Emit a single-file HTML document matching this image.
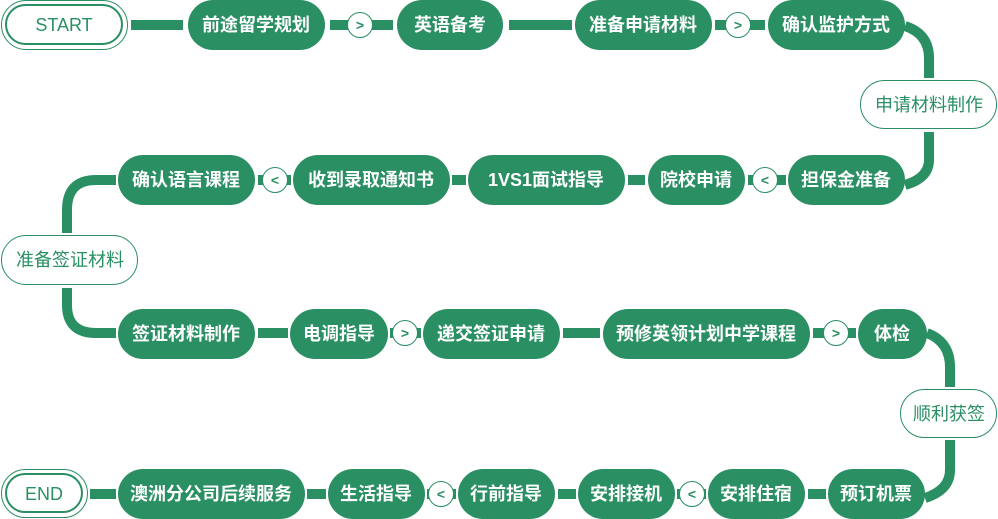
<!DOCTYPE html>
<html><head><meta charset="utf-8"><style>
html,body{margin:0;padding:0;background:#fff;}
svg{display:block}
text{font-family:"Liberation Sans","Noto Sans CJK SC",sans-serif;}
.w{fill:#fff;font-size:18px;font-weight:bold;text-anchor:middle;dominant-baseline:central}
.g{fill:#2a8f63;font-size:18px;text-anchor:middle;dominant-baseline:central}
.c{fill:#2a8f63;font-size:14px;font-weight:bold;text-anchor:middle;dominant-baseline:central}
</style></head><body>
<svg width="998" height="519" viewBox="0 0 998 519" xmlns="http://www.w3.org/2000/svg">
<g fill="none" stroke="#2a8f63" stroke-width="10">
<line x1="131" y1="25" x2="183" y2="25"/>
<line x1="330" y1="25" x2="393" y2="25"/>
<line x1="509" y1="25" x2="572" y2="25"/>
<line x1="715" y1="25" x2="765" y2="25"/>
<path d="M905,26 Q929,34 929,58 L929,78"/>
<path d="M929,132 L929,160 Q929,178 905,185"/>
<line x1="258" y1="180" x2="291" y2="180"/>
<line x1="452" y1="180" x2="466" y2="180"/>
<line x1="628" y1="180" x2="645" y2="180"/>
<line x1="748" y1="180" x2="786" y2="180"/>
<path d="M116,180 L96,180 Q67,180 67,210 L67,233"/>
<path d="M67,288 L67,305 Q67,333 96,333 L116,333"/>
<line x1="258" y1="333" x2="288" y2="333"/>
<line x1="390" y1="333" x2="421" y2="333"/>
<line x1="563" y1="333" x2="600" y2="333"/>
<line x1="813" y1="333" x2="856" y2="333"/>
<path d="M927,333 Q950,342 950,367 L950,387"/>
<path d="M950,440 L950,470 Q950,490 925,498"/>
<line x1="90" y1="494" x2="116" y2="494"/>
<line x1="307" y1="494" x2="326" y2="494"/>
<line x1="427" y1="494" x2="456" y2="494"/>
<line x1="558" y1="494" x2="576" y2="494"/>
<line x1="677" y1="494" x2="706" y2="494"/>
<line x1="808" y1="494" x2="826" y2="494"/>
</g>
<g fill="#fff" stroke="#2a8f63">
<rect x="1.5" y="0.5" width="126" height="49" rx="24.5" stroke-width="1"/>
<rect x="6" y="5" width="116" height="39" rx="19.5" stroke-width="2"/>
<rect x="1.5" y="469.5" width="86" height="48" rx="24" stroke-width="1"/>
<rect x="6" y="474" width="76" height="38" rx="19" stroke-width="2"/>
<rect x="860.5" y="80.5" width="136" height="48" rx="24" stroke-width="1"/>
<rect x="1.5" y="235.5" width="136" height="49" rx="24.5" stroke-width="1"/>
<rect x="900.5" y="389.5" width="96" height="48" rx="24" stroke-width="1"/>
</g>
<text class="g" x="64" y="25">START</text>
<text class="g" x="44" y="494">END</text>
<text class="g" x="929" y="105">申请材料制作</text>
<text class="g" x="70" y="260">准备签证材料</text>
<text class="g" x="949" y="414">顺利获签</text>
<g fill="#2a8f63">
<rect x="188" y="0" width="137" height="50" rx="25"/>
<rect x="397" y="0" width="106" height="50" rx="25"/>
<rect x="575" y="0" width="137" height="50" rx="25"/>
<rect x="768" y="0" width="137" height="50" rx="25"/>
<rect x="118" y="155" width="137" height="50" rx="25"/>
<rect x="293" y="155" width="157" height="50" rx="25"/>
<rect x="468" y="155" width="157" height="50" rx="25"/>
<rect x="648" y="155" width="97" height="50" rx="25"/>
<rect x="788" y="155" width="117" height="50" rx="25"/>
<rect x="118" y="309" width="137" height="50" rx="25"/>
<rect x="290" y="309" width="98" height="50" rx="25"/>
<rect x="423" y="309" width="137" height="50" rx="25"/>
<rect x="603" y="309" width="207" height="50" rx="25"/>
<rect x="858" y="309" width="69" height="50" rx="25"/>
<rect x="118" y="469" width="187" height="50" rx="25"/>
<rect x="328" y="469" width="97" height="50" rx="25"/>
<rect x="458" y="469" width="97" height="50" rx="25"/>
<rect x="578" y="469" width="97" height="50" rx="25"/>
<rect x="708" y="469" width="97" height="50" rx="25"/>
<rect x="828" y="469" width="97" height="50" rx="25"/>
</g>
<text class="w" x="256" y="25">前途留学规划</text>
<text class="w" x="450" y="25">英语备考</text>
<text class="w" x="643" y="25">准备申请材料</text>
<text class="w" x="836" y="25">确认监护方式</text>
<text class="w" x="186" y="180">确认语言课程</text>
<text class="w" x="371" y="180">收到录取通知书</text>
<text class="w" x="546" y="180">1VS1面试指导</text>
<text class="w" x="696" y="180">院校申请</text>
<text class="w" x="846" y="180">担保金准备</text>
<text class="w" x="186" y="334">签证材料制作</text>
<text class="w" x="339" y="334">电调指导</text>
<text class="w" x="491" y="334">递交签证申请</text>
<text class="w" x="706" y="334">预修英领计划中学课程</text>
<text class="w" x="892" y="334">体检</text>
<text class="w" x="211" y="494">澳洲分公司后续服务</text>
<text class="w" x="376" y="494">生活指导</text>
<text class="w" x="506" y="494">行前指导</text>
<text class="w" x="626" y="494">安排接机</text>
<text class="w" x="756" y="494">安排住宿</text>
<text class="w" x="876" y="494">预订机票</text>
<g fill="#fff" stroke="#2a8f63" stroke-width="1">
<circle cx="360" cy="25" r="12.5"/>
<circle cx="738" cy="25" r="12.5"/>
<circle cx="275" cy="180" r="12.5"/>
<circle cx="765" cy="180" r="12.5"/>
<circle cx="405" cy="333" r="12.5"/>
<circle cx="836" cy="333" r="12.5"/>
<circle cx="441" cy="494" r="12.5"/>
<circle cx="692" cy="494" r="12.5"/>
</g>
<text class="c" x="360" y="25">&gt;</text>
<text class="c" x="738" y="25">&gt;</text>
<text class="c" x="275" y="180">&lt;</text>
<text class="c" x="765" y="180">&lt;</text>
<text class="c" x="405" y="333">&gt;</text>
<text class="c" x="836" y="333">&gt;</text>
<text class="c" x="441" y="494">&lt;</text>
<text class="c" x="692" y="494">&lt;</text>
</svg>
</body></html>
